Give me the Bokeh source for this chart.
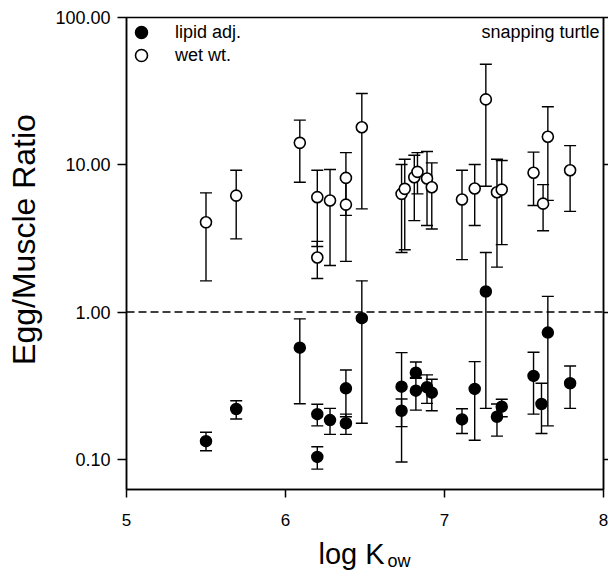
import math
from bokeh.plotting import figure
from bokeh.layouts import row, column
from bokeh.models import (ColumnDataSource, Whisker, TeeHead, Span, Label, Legend, LegendItem,
                          FixedTicker, PrintfTickFormatter, LogAxis, Range1d, CustomJSTickFormatter)
from bokeh.embed import file_html
from bokeh.resources import INLINE

# ---- data: wet weight (open circles) ----
wet_x = [5.50, 5.69, 6.09, 6.20, 6.20, 6.28, 6.38, 6.38, 6.48, 6.73, 6.75, 6.81,
         6.83, 6.89, 6.92, 7.11, 7.19, 7.26, 7.33, 7.36, 7.56, 7.62, 7.65, 7.79]
wet_y = [4.07, 6.18, 14.1, 6.03, 2.35, 5.72, 8.15, 5.37, 18.0, 6.35, 6.87, 8.24,
         8.96, 8.07, 7.04, 5.81, 6.90, 27.8, 6.51, 6.79, 8.83, 5.45, 15.5, 9.19]
wet_lo = [1.63, 3.14, 7.62, 2.79, 1.69, 2.07, 4.54, 2.21, 5.02, 2.54, 2.65, 4.18,
          6.35, 3.87, 3.67, 2.27, 3.87, 7.15, 2.02, 2.87, 5.29, 3.57, 5.74, 4.83]
wet_hi = [6.45, 9.19, 20.1, 9.19, 3.02, 9.30, 12.1, 8.00, 30.5, 10.05, 10.9, 11.6,
          12.1, 12.3, 10.3, 9.19, 10.05, 48.1, 10.9, 10.7, 12.2, 7.34, 24.8, 13.5]

# ---- data: lipid adjusted (filled circles) ----
lip_x = [5.50, 5.69, 6.09, 6.20, 6.20, 6.28, 6.38, 6.38, 6.48, 6.73, 6.73, 6.82,
         6.82, 6.89, 6.92, 7.11, 7.19, 7.26, 7.33, 7.36, 7.56, 7.61, 7.65, 7.79]
lip_y = [0.133, 0.220, 0.574, 0.203, 0.104, 0.185, 0.304, 0.176, 0.910, 0.312, 0.214, 0.388,
         0.293, 0.309, 0.284, 0.187, 0.301, 1.38, 0.195, 0.228, 0.369, 0.238, 0.726, 0.329]
lip_lo = [0.1145, 0.188, 0.239, 0.169, 0.086, 0.148, 0.195, 0.148, 0.176, 0.167, 0.096, 0.355,
          0.216, 0.240, 0.214, 0.150, 0.135, 0.222, 0.144, 0.195, 0.203, 0.150, 0.169, 0.222]
lip_hi = [0.153, 0.250, 0.900, 0.237, 0.122, 0.222, 0.405, 0.203, 1.63, 0.531, 0.257, 0.459,
          0.360, 0.375, 0.350, 0.221, 0.461, 2.54, 0.238, 0.256, 0.534, 0.329, 1.28, 0.431]

x_ticks = [5, 6, 7, 8]
y_ticks = [0.1, 1, 10, 100]
y_min, y_max = 0.0625, 100
x_min, x_max = 5, 8

y_title = "Egg/Muscle Ratio"
x_title_main = "log K"
x_title_sub = "ow"
species = "snapping turtle"
series_names = ["lipid adj.", "wet wt."]

FONT = "Liberation Sans"

# layout sizes (pixels)
W, H = 608, 571
LW = 45            # left strip holding the y title
MH = 533           # main plot height
BH = H - MH        # bottom strip holding the x title
MW = W - LW

p = figure(width=MW, height=MH, x_range=Range1d(x_min, x_max), y_range=Range1d(y_min, y_max),
           y_axis_type="log", output_backend="svg", toolbar_location=None,
           min_border_left=126 - LW, min_border_top=17, min_border_bottom=MH - 489,
           min_border_right=5)
p.xgrid.visible = False
p.ygrid.visible = False
p.outline_line_color = "black"
p.outline_line_width = 1.5
p.background_fill_color = "white"
p.border_fill_color = "white"

# axes
p.xaxis.ticker = FixedTicker(ticks=x_ticks, minor_ticks=[])
p.yaxis.ticker = FixedTicker(ticks=y_ticks, minor_ticks=[])
p.yaxis.formatter = PrintfTickFormatter(format="%.2f")
for ax in (p.xaxis[0], p.yaxis[0]):
    ax.axis_line_color = "black"
    ax.axis_line_width = 1.5
    ax.major_tick_line_width = 1.5
    ax.major_tick_in = 0
    ax.minor_tick_line_color = None
    ax.major_label_text_font = FONT
    ax.major_label_text_color = "black"
p.xaxis.major_tick_out = 8
p.xaxis.major_label_standoff = 16
p.xaxis.major_label_text_font_size = "17px"
p.yaxis.major_tick_out = 9
p.yaxis.major_label_standoff = 7
p.yaxis.major_label_text_font_size = "18px"

right = LogAxis(ticker=FixedTicker(ticks=y_ticks, minor_ticks=[]),
                formatter=CustomJSTickFormatter(code="return ' '"),
                major_label_text_font_size="1px", major_label_text_alpha=0,
                major_label_standoff=0,
                major_tick_out=5, major_tick_in=0, major_tick_line_width=1.5,
                axis_line_width=1.5, minor_tick_line_color=None)
p.add_layout(right, "right")

# sources
src_w = ColumnDataSource(dict(x=wet_x, y=wet_y, lo=wet_lo, hi=wet_hi))
src_l = ColumnDataSource(dict(x=lip_x, y=lip_y, lo=lip_lo, hi=lip_hi))

# reference line at ratio 1
p.add_layout(Span(location=1, dimension="width", line_color="black", line_width=1.5,
                  line_dash="8 4", level="underlay"))

for src in (src_w, src_l):
    w = Whisker(source=src, base="x", upper="hi", lower="lo", dimension="height",
                line_color="black", line_width=1.4, level="underlay",
                upper_head=TeeHead(size=12, line_width=1.4, line_color="black"),
                lower_head=TeeHead(size=12, line_width=1.4, line_color="black"))
    p.add_layout(w)

r_l = p.scatter("x", "y", source=src_l, size=11, marker="circle",
                fill_color="black", line_color="black", line_width=1.5)
r_w = p.scatter("x", "y", source=src_w, size=11, marker="circle",
                fill_color="white", line_color="black", line_width=1.6)

frame_h = MH - 17 - (MH - 489)
leg_style = dict(border_line_alpha=0, background_fill_alpha=0, glyph_width=30, glyph_height=30,
                 padding=0, margin=0, label_standoff=19, label_text_font=FONT,
                 label_text_font_size="18px", label_text_color="black", label_height=20)
leg1 = Legend(items=[LegendItem(label=series_names[0], renderers=[r_l])],
              location="top_left", **leg_style)
leg2 = Legend(items=[LegendItem(label=series_names[1], renderers=[r_w])],
              location=(0, frame_h - 23 - 30), **leg_style)
p.add_layout(leg1)
p.add_layout(leg2)

# species annotation
p.add_layout(Label(x=x_max, y=y_max, x_offset=-4, y_offset=-14, text=species,
                   text_align="right", text_baseline="middle", text_font=FONT,
                   text_font_size="18px", text_color="black"))

# y title strip
left = figure(width=LW, height=H, x_range=Range1d(0, LW), y_range=Range1d(0, H),
              output_backend="svg", toolbar_location=None, x_axis_location=None,
              y_axis_location=None, min_border=0, outline_line_color=None)
left.xgrid.visible = False
left.ygrid.visible = False
left.add_layout(Label(x=23, y=H - 239, text=y_title, angle=math.pi / 2,
                      text_align="center", text_baseline="middle", text_font=FONT,
                      text_font_size="32px", text_color="black"))

# x title strip (its frame is aligned with the main frame, so share the x range)
bottom = figure(width=MW, height=BH, x_range=p.x_range, y_range=Range1d(0, BH),
                output_backend="svg", toolbar_location=None, x_axis_location=None,
                y_axis_location=None, min_border=0, outline_line_color=None)
bottom.xgrid.visible = False
bottom.ygrid.visible = False
bottom.add_layout(Label(x=x_min, x_offset=192, y=18, text=x_title_main,
                        text_align="left", text_baseline="middle", text_font=FONT,
                        text_font_size="29px", text_color="black"))
bottom.add_layout(Label(x=x_min, x_offset=261, y=11, text=x_title_sub,
                        text_align="left", text_baseline="middle", text_font=FONT,
                        text_font_size="18px", text_color="black"))

layout = row(left, column(p, bottom, spacing=0), spacing=0)
open("out.html", "w").write(file_html(layout, INLINE))
